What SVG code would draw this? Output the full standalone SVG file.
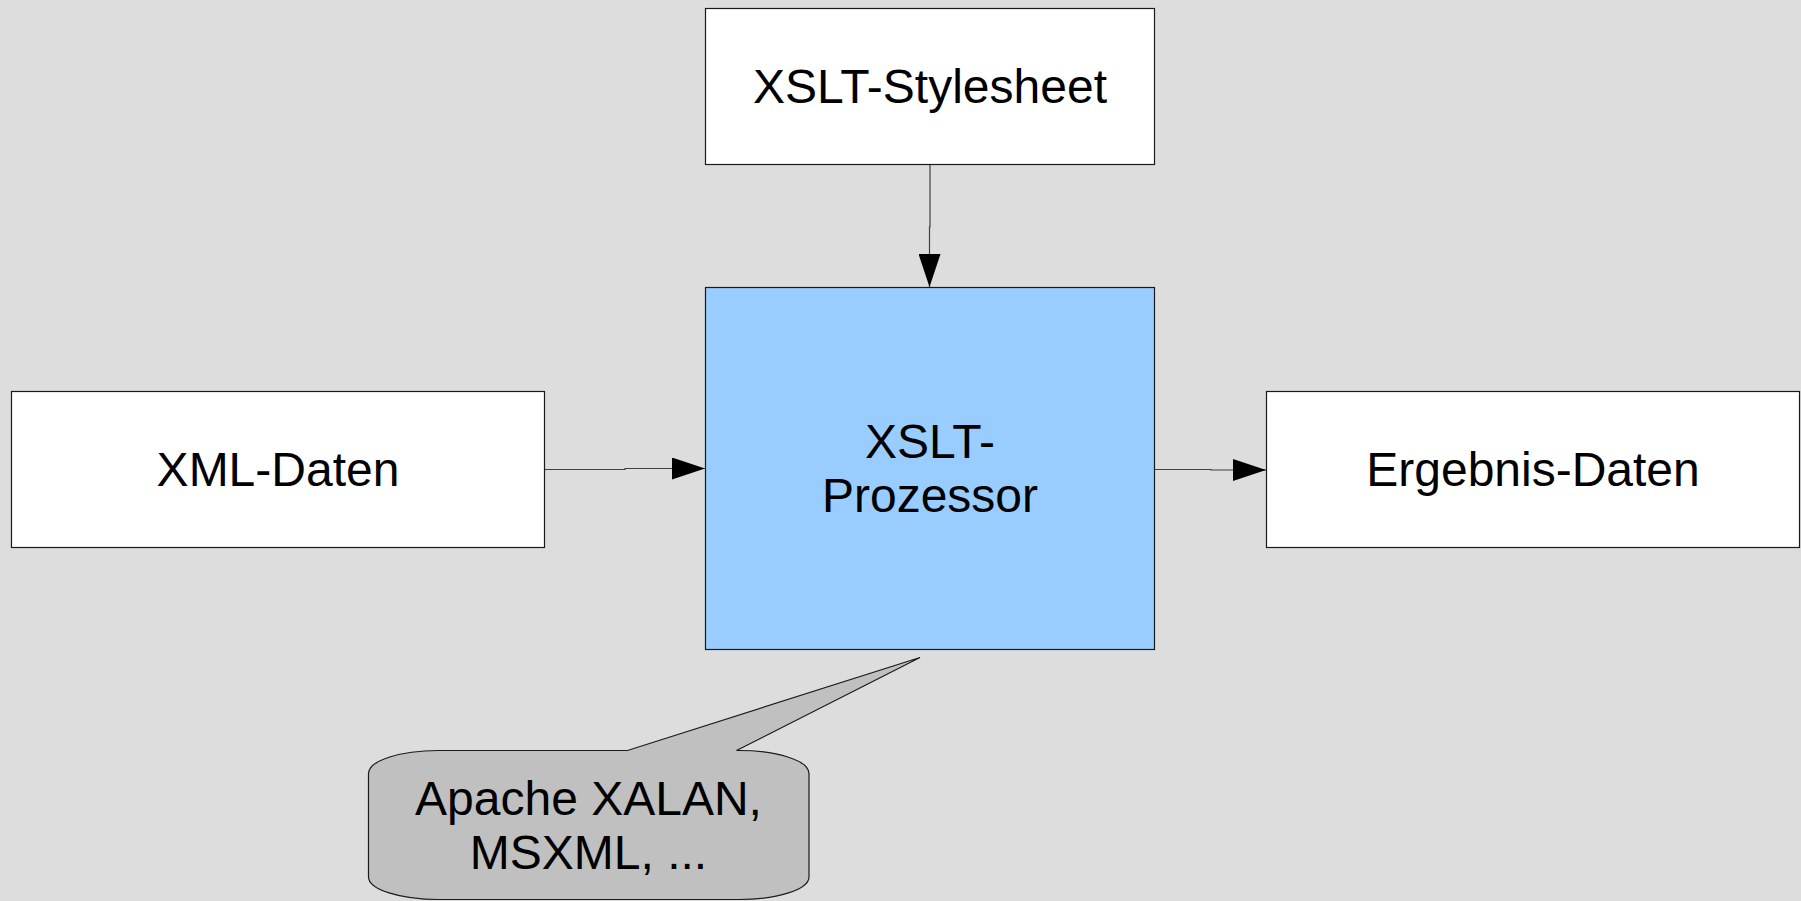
<svg xmlns="http://www.w3.org/2000/svg" width="1801" height="901" viewBox="0 0 1801 901">
  <defs>
    <style>
      .box { fill: #ffffff; stroke: #1a1a1a; stroke-width: 1.2; }
      .proc { fill: #99ccff; stroke: #1a1a1a; stroke-width: 1.2; }
      .note { fill: #c0c0c0; stroke: #1a1a1a; stroke-width: 1.2; }
      .label { font-family: "Liberation Sans", Arial, sans-serif; font-size: 48px; fill: #000000; text-anchor: middle; }
      .conn { fill: none; stroke: #404040; stroke-width: 1.2; }
    </style>
    <marker id="arrow" markerUnits="userSpaceOnUse" markerWidth="34" markerHeight="22" refX="33" refY="11" orient="auto">
      <path d="M0,0 L33,11 L0,22 Z" fill="#000000"/>
    </marker>
  </defs>

  <rect width="1801" height="901" fill="#dddddd"/>

  <!-- connectors -->
  <g id="connectors">
    <path class="conn" d="M930,165 V227 H929.5 V287" marker-end="url(#arrow)"/>
    <path class="conn" d="M544.5,469.5 H625 V468.5 H705" marker-end="url(#arrow)"/>
    <path class="conn" d="M1154.5,469.5 H1211 V470 H1266" marker-end="url(#arrow)"/>
  </g>

  <g id="stylesheet">
    <rect class="box" x="705.5" y="8.5" width="449" height="156"/>
    <text class="label" x="930" y="103">XSLT-Stylesheet</text>
  </g>

  <g id="processor">
    <rect class="proc" x="705.5" y="287.5" width="449" height="362"/>
    <text class="label" x="930" y="458">XSLT-</text>
    <text class="label" x="930" y="512">Prozessor</text>
  </g>

  <g id="xml-data">
    <rect class="box" x="11.5" y="391.5" width="533" height="156"/>
    <text class="label" x="278" y="486">XML-Daten</text>
  </g>

  <g id="result-data">
    <rect class="box" x="1266.5" y="391.5" width="533" height="156"/>
    <text class="label" x="1533" y="486">Ergebnis-Daten</text>
  </g>

  <g id="implementations">
    <path class="note" d="M368.5,773.5 A70,23 0 0 1 438.5,750.5 H627.5 L920,657.5 L736.5,750.5 H739 A70,23 0 0 1 809,773.5 V877 A70,22.5 0 0 1 739,899.5 H438.5 A70,22.5 0 0 1 368.5,877 Z"/>
    <text class="label" x="588.5" y="814.5">Apache XALAN,</text>
    <text class="label" x="588.5" y="868.5">MSXML, ...</text>
  </g>
</svg>
